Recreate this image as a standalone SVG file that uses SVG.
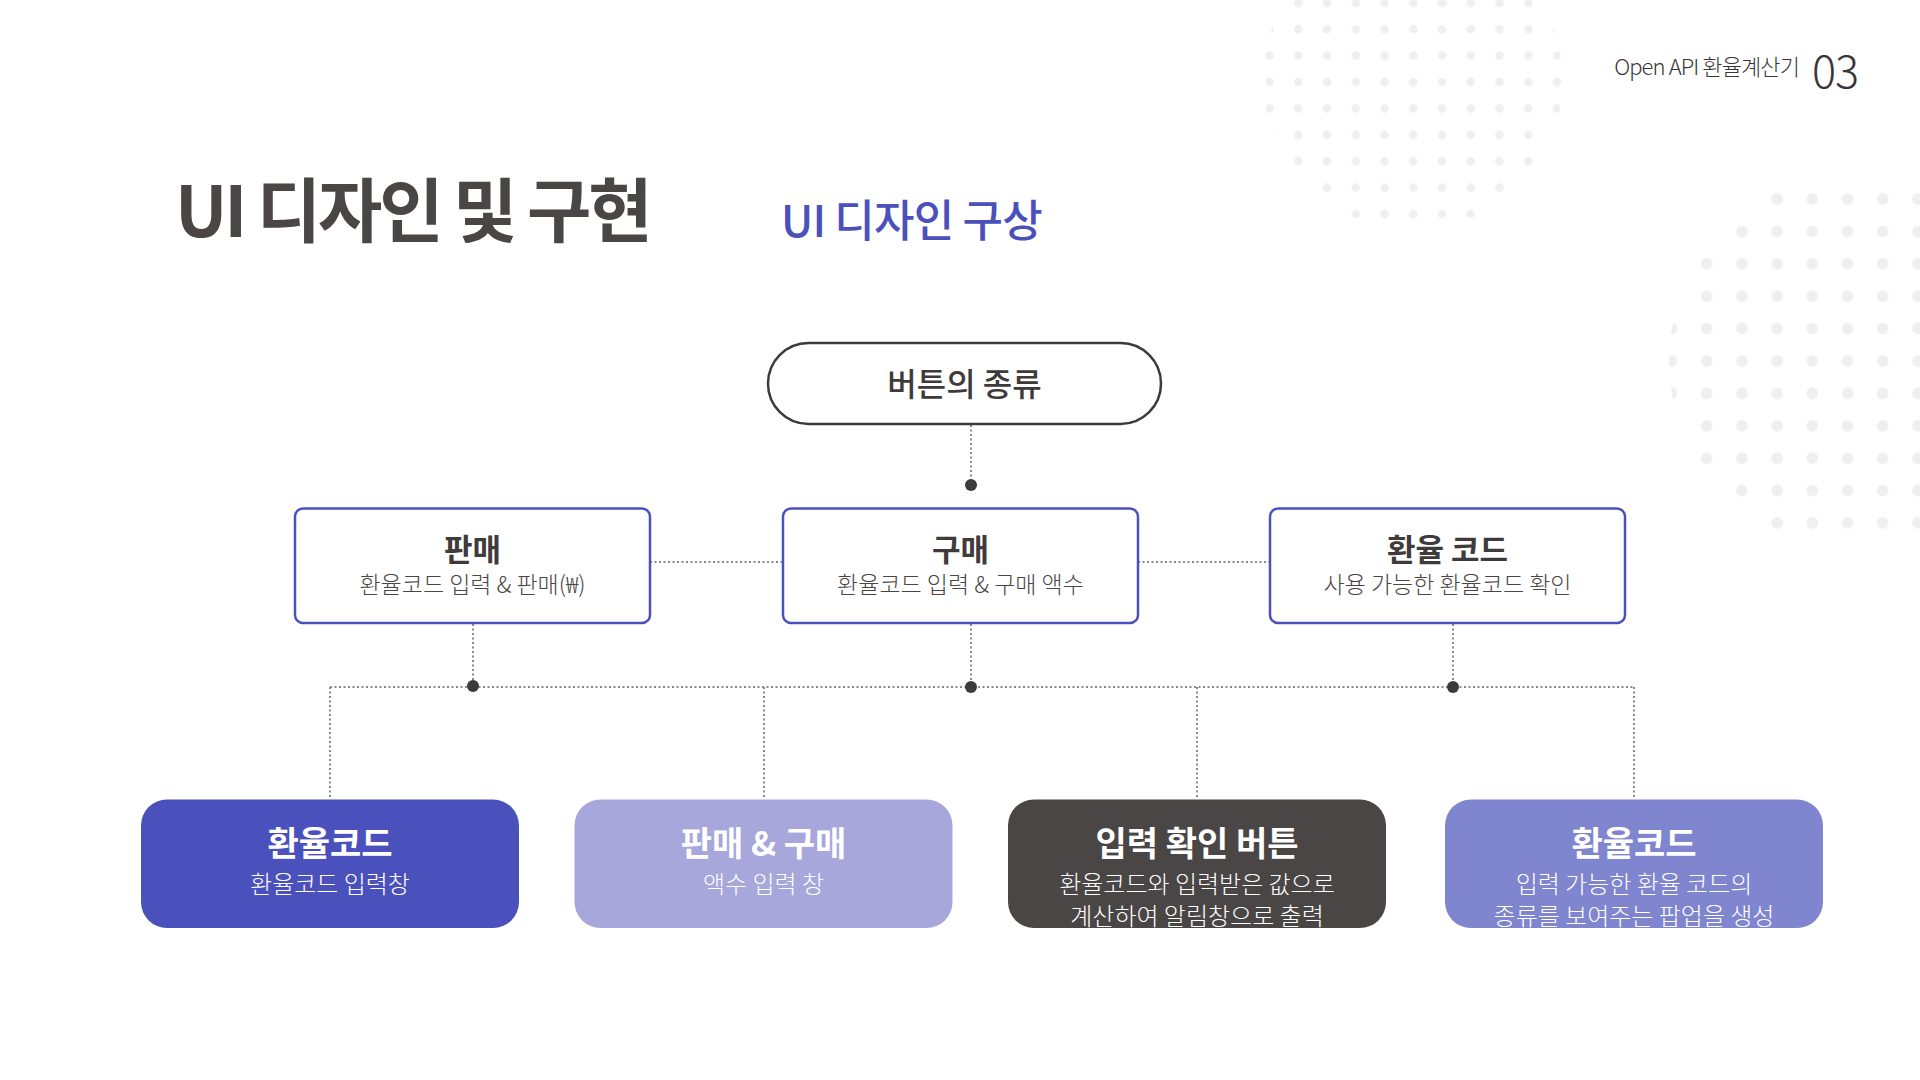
<svg xmlns="http://www.w3.org/2000/svg" width="1920" height="1080" viewBox="0 0 1920 1080">
<style>
text{font-family:"Noto Sans CJK KR","Noto Sans",sans-serif;dominant-baseline:central;text-anchor:middle}
.mbox{fill:#fff;stroke:#4b50bb;stroke-width:2.5}
.mt{font-size:31px;font-weight:700;fill:#3f3b3b}
.ms{font-size:23px;font-weight:300;fill:#4a4645}
.bt{font-size:34px;font-weight:700;fill:#fff}
.bs{font-size:24px;font-weight:300;fill:#fff}
.dl{stroke:#8a8a8a;stroke-width:2;stroke-dasharray:2 2.5;fill:none}
.jn{fill:#3d3a3a}
</style>
<defs>
<pattern id="dots1" patternUnits="userSpaceOnUse" x="1255.125" y="-10.3" width="28.75" height="26.4"><circle cx="14.375" cy="13.2" r="4.3" fill="#efefef"/></pattern>
<pattern id="dots2" patternUnits="userSpaceOnUse" x="1653.9" y="182.8" width="35.2" height="32.4"><circle cx="17.6" cy="16.2" r="5.8" fill="#efefef"/></pattern>
</defs>
<rect width="1920" height="1080" fill="#fff"/>
<circle cx="1413" cy="80" r="150" fill="url(#dots1)"/>
<circle cx="1855" cy="361" r="186" fill="url(#dots2)"/>
<g id="header">
<text x="1799" y="75" style="dominant-baseline:auto;text-anchor:end;font-size:22px;font-weight:300;fill:#3a3636;letter-spacing:-0.9px">Open API 환율계산기</text>
<text x="1812" y="88" style="dominant-baseline:auto;text-anchor:start;font-size:45px;font-weight:300;fill:#3a3636;letter-spacing:-1px">03</text>
<text x="175" y="206" style="text-anchor:start;font-size:70px;font-weight:700;fill:#4a4645;letter-spacing:-3.2px">UI 디자인 및 구현</text>
<text x="781" y="218" style="text-anchor:start;font-size:44px;font-weight:500;fill:#4b50bb;letter-spacing:-0.8px">UI 디자인 구상</text>
</g>
<g id="connectors">
<line class="dl" x1="971" y1="425" x2="971" y2="485"/>
<line class="dl" x1="650" y1="562" x2="782" y2="562"/>
<line class="dl" x1="1138" y1="562" x2="1270" y2="562"/>
<line class="dl" x1="473" y1="624" x2="473" y2="687"/>
<line class="dl" x1="971" y1="624" x2="971" y2="687"/>
<line class="dl" x1="1453" y1="624" x2="1453" y2="687"/>
<line class="dl" x1="330" y1="687" x2="1634" y2="687"/>
<line class="dl" x1="330" y1="687" x2="330" y2="799"/>
<line class="dl" x1="764" y1="687" x2="764" y2="799"/>
<line class="dl" x1="1197" y1="687" x2="1197" y2="799"/>
<line class="dl" x1="1634" y1="687" x2="1634" y2="799"/>
<circle class="jn" cx="971" cy="485" r="6"/>
<circle class="jn" cx="473" cy="686" r="6"/>
<circle class="jn" cx="971" cy="687" r="6"/>
<circle class="jn" cx="1453" cy="687" r="6"/>
</g>
<g id="root">
<rect x="768" y="343" width="393" height="81" rx="40.5" fill="#fff" stroke="#3d3a3a" stroke-width="2.5"/>
<text x="964.5" y="382" style="font-size:32px;font-weight:500;fill:#3f3b3b">버튼의 종류</text>
</g>
<g id="sell">
<rect class="mbox" x="295" y="508.5" width="355" height="114.5" rx="8"/>
<text class="mt" x="472.5" y="547">판매</text>
<text class="ms" x="472.5" y="582.5">환율코드 입력 &amp; 판매(₩)</text>
</g>
<g id="buy">
<rect class="mbox" x="783" y="508.5" width="355" height="114.5" rx="8"/>
<text class="mt" x="960.5" y="547">구매</text>
<text class="ms" x="960.5" y="582.5">환율코드 입력 &amp; 구매 액수</text>
</g>
<g id="code">
<rect class="mbox" x="1270" y="508.5" width="355" height="114.5" rx="8"/>
<text class="mt" x="1447.5" y="547">환율 코드</text>
<text class="ms" x="1447.5" y="582.5">사용 가능한 환율코드 확인</text>
</g>
<g id="b1">
<rect x="141" y="799.5" width="378" height="128.5" rx="26" fill="#4b51bc"/>
<text class="bt" x="330" y="841">환율코드</text>
<text class="bs" x="330" y="882">환율코드 입력창</text>
</g>
<g id="b2">
<rect x="574.5" y="799.5" width="378" height="128.5" rx="26" fill="#a7a7dc"/>
<text class="bt" x="763.5" y="841">판매 &amp; 구매</text>
<text class="bs" x="763.5" y="882">액수 입력 창</text>
</g>
<g id="b3">
<rect x="1008" y="799.5" width="378" height="128.5" rx="26" fill="#4a4645"/>
<text class="bt" x="1197" y="841">입력 확인 버튼</text>
<text class="bs" x="1197" y="882">환율코드와 입력받은 값으로</text>
<text class="bs" x="1197" y="914">계산하여 알림창으로 출력</text>
</g>
<g id="b4">
<rect x="1445" y="799.5" width="378" height="128.5" rx="26" fill="#8085cf"/>
<text class="bt" x="1634" y="841">환율코드</text>
<text class="bs" x="1634" y="882">입력 가능한 환율 코드의</text>
<text class="bs" x="1634" y="914">종류를 보여주는 팝업을 생성</text>
</g>
</svg>
